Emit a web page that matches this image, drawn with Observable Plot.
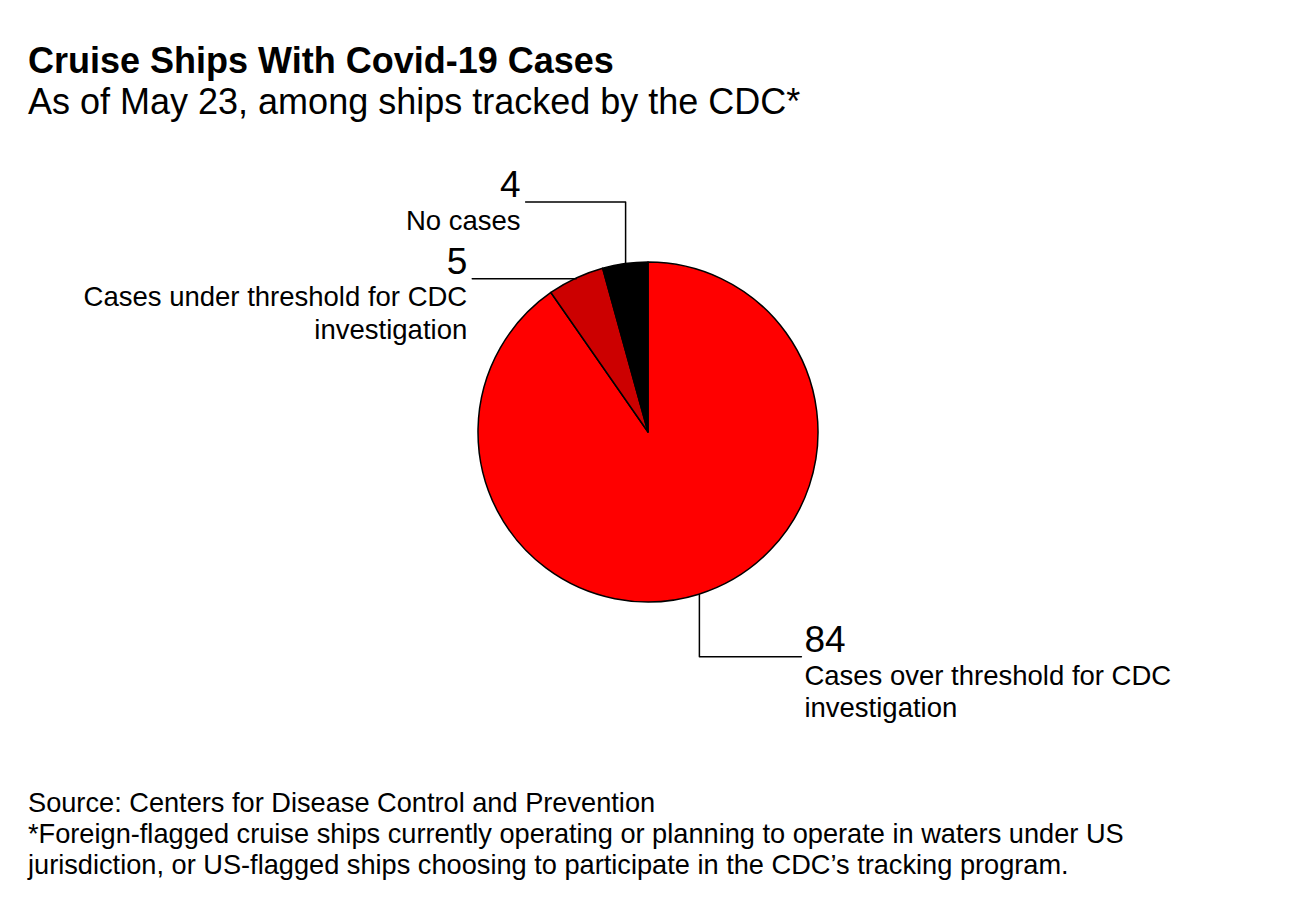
<!DOCTYPE html>
<html>
<head>
<meta charset="utf-8">
<script src="https://cdn.jsdelivr.net/npm/d3@7"></script>
<script src="https://cdn.jsdelivr.net/npm/@observablehq/plot@0.6"></script>
<style>
  html, body { margin: 0; padding: 0; background: #fff; }
  body { width: 1296px; height: 902px; position: relative; overflow: hidden;
         font-family: "Liberation Sans", Arial, sans-serif; color: #000; }
  .title { position: absolute; left: 28px; top: 40.5px; font-size: 36px; line-height: 40px; font-weight: bold; }
  .subtitle { position: absolute; left: 28px; top: 81.5px; font-size: 36px; line-height: 40px; }
  .footer { position: absolute; left: 28px; top: 787px; font-size: 27.2px; line-height: 31px; }
  #chart { position: absolute; left: 0; top: 140px; }
</style>
</head>
<body>
<div class="title">Cruise Ships With Covid-19 Cases</div>
<div class="subtitle">As of May 23, among ships tracked by the CDC*</div>
<div id="chart"></div>
<div class="footer">Source: Centers for Disease Control and Prevention<br>*Foreign-flagged cruise ships currently operating or planning to operate in waters under US<br>jurisdiction, or US-flagged ships choosing to participate in the CDC’s tracking program.</div>
<script>
// ---- data ----
const categories = [
  "Cases over threshold for CDC\ninvestigation",
  "Cases under threshold for CDC\ninvestigation",
  "No cases"
];
const values = [84, 5, 4];
const colors = ["#ff0000", "#cc0000", "#000000"];

// ---- layout constants ----
const W = 1296, H = 620;
const CX = 648, CY = 292, R = 170;

const rows = categories.map((c, i) => ({category: c, value: values[i], color: colors[i]}));
const arcs = d3.pie().sort(null).value(d => d.value)(rows);

// leader-line layout per slice (direction of elbow and horizontal run)
const leader = [
  {v: 62, h: 102, anchor: "start"},   // over threshold: down then right
  {v: 0, h: -104, anchor: "end"},     // under threshold: straight left
  {v: -62, h: -100, anchor: "end"}    // no cases: up then left
];

const linePts = [];
const labels = [];
arcs.forEach((a, i) => {
  const mid = (a.startAngle + a.endAngle) / 2;
  const rx = CX + R * Math.sin(mid), ry = CY - R * Math.cos(mid);
  const L = leader[i];
  const ex = rx + L.h, ey = ry + L.v;
  linePts.push({x: rx, y: ry, k: i});
  if (L.v !== 0) linePts.push({x: rx, y: ey, k: i});
  linePts.push({x: ex, y: ey, k: i});
  const tx = L.anchor === "start" ? ex + 3 : ex - 5;
  labels.push({x: tx, y: ey - 5, num: String(a.data.value), text: a.data.category, anchor: L.anchor, ly: ey + 29});
});

const arcGen = d3.arc().innerRadius(0).outerRadius(R);

const pieMark = (index, scales) => {
  const g = d3.create("svg:g")
    .attr("transform", `translate(${scales.x(CX)},${scales.y(CY)})`);
  g.selectAll("path").data(arcs).join("path")
    .attr("d", arcGen)
    .attr("fill", d => d.data.color)
    .attr("stroke", "#000")
    .attr("stroke-width", 1.5)
    .attr("stroke-linejoin", "round");
  return g.node();
};

const textMarks = ["start", "end"].flatMap(anc => {
  const d = labels.filter(l => l.anchor === anc);
  return [
    Plot.text(d, {x: "x", y: "y", text: "num", textAnchor: anc, lineAnchor: "bottom", fontSize: 37, fill: "#000"}),
    Plot.text(d, {x: "x", y: "ly", text: "text", textAnchor: anc, lineAnchor: "top", fontSize: 27.5, lineHeight: 1.17, fill: "#000", dy: -24})
  ];
});

const chart = Plot.plot({
  width: W, height: H, margin: 0,
  x: {domain: [0, W], range: [0, W], axis: null},
  y: {domain: [0, H], range: [0, H], axis: null},
  style: {fontFamily: "'Liberation Sans', Arial, sans-serif", background: "transparent", overflow: "visible"},
  marks: [
    pieMark,
    Plot.line(linePts, {x: "x", y: "y", z: "k", stroke: "#000", strokeWidth: 1.5, curve: "linear"}),
    ...textMarks
  ]
});
document.getElementById("chart").appendChild(chart);
</script>
</body>
</html>
